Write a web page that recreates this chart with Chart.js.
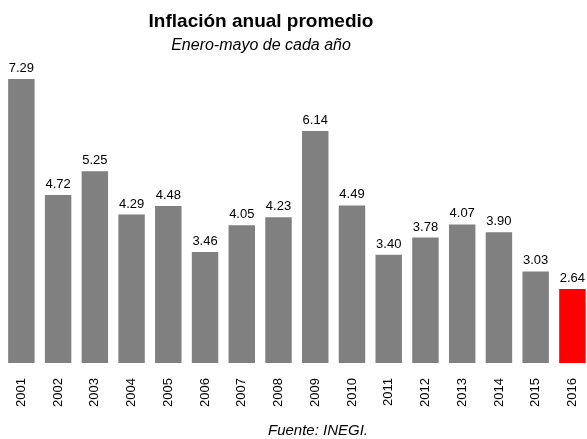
<!DOCTYPE html>
<html>
<head>
<meta charset="utf-8">
<script src="https://cdn.jsdelivr.net/npm/chart.js@4/dist/chart.umd.min.js"></script>
<style>
  html, body { margin: 0; padding: 0; background: #fff; overflow: hidden; width: 587px; height: 439px; }
  #wrap { position: relative; width: 603px; height: 439px; }
</style>
</head>
<body>
<div id="wrap"><canvas id="c" width="603" height="439"></canvas></div>
<script>
// Average annual inflation, January–May of each year (%)
const years = ['2001','2002','2003','2004','2005','2006','2007','2008',
               '2009','2010','2011','2012','2013','2014','2015','2016'];
const inflation = [7.29, 4.72, 5.25, 4.29, 4.48, 3.46, 4.05, 4.23,
                   6.14, 4.49, 3.40, 3.78, 4.07, 3.90, 3.03, 2.64];
const highlightYear = '2016';

const titleText = 'Inflación anual promedio';
const subtitleText = 'Enero-mayo de cada año';
const sourceText = 'Fuente: INEGI.';

const FONT = '"Liberation Sans", Arial, Helvetica, sans-serif';
const GRAY = '#808080';
const RED = '#ff0000';

const barColors = years.map(y => (y === highlightYear ? RED : GRAY));

// Title, subtitle and source note
const headerFooter = {
  id: 'headerFooter',
  afterDraw(chart) {
    const ctx = chart.ctx;
    ctx.save();
    ctx.fillStyle = '#000';
    ctx.textAlign = 'center';
    ctx.textBaseline = 'alphabetic';
    ctx.font = 'bold 19px ' + FONT;
    ctx.fillText(titleText, 261, 27);
    ctx.font = 'italic 16px ' + FONT;
    ctx.fillText(subtitleText, 261, 50);
    ctx.font = 'italic 15px ' + FONT;
    ctx.fillText(sourceText, 318, 435);
    ctx.restore();
  }
};

// Value printed above each bar
const valueLabels = {
  id: 'valueLabels',
  afterDatasetsDraw(chart) {
    const ctx = chart.ctx;
    const meta = chart.getDatasetMeta(0);
    ctx.save();
    ctx.font = '13px ' + FONT;
    ctx.fillStyle = '#000';
    ctx.textAlign = 'center';
    ctx.textBaseline = 'alphabetic';
    meta.data.forEach((bar, i) => {
      ctx.fillText(inflation[i].toFixed(2), bar.x, bar.y - 7);
    });
    ctx.restore();
  }
};

new Chart(document.getElementById('c'), {
  type: 'bar',
  data: {
    labels: years,
    datasets: [{
      data: inflation,
      backgroundColor: barColors,
      borderWidth: 0,
      categoryPercentage: 1,
      barPercentage: 0.72
    }]
  },
  options: {
    responsive: false,
    animation: false,
    layout: { padding: { top: 47, left: 3, right: 0, bottom: 17 } },
    plugins: {
      legend: { display: false },
      tooltip: { enabled: false },
      title: { display: false }
    },
    scales: {
      x: {
        offset: true,
        grid: { display: false, drawTicks: false },
        border: { display: false },
        ticks: {
          color: '#000',
          font: { family: FONT, size: 13 },
          minRotation: 90,
          maxRotation: 90,
          padding: 15,
          autoSkip: false
        }
      },
      y: {
        display: false,
        min: 1,
        max: 8
      }
    }
  },
  plugins: [valueLabels, headerFooter]
});
</script>
</body>
</html>
